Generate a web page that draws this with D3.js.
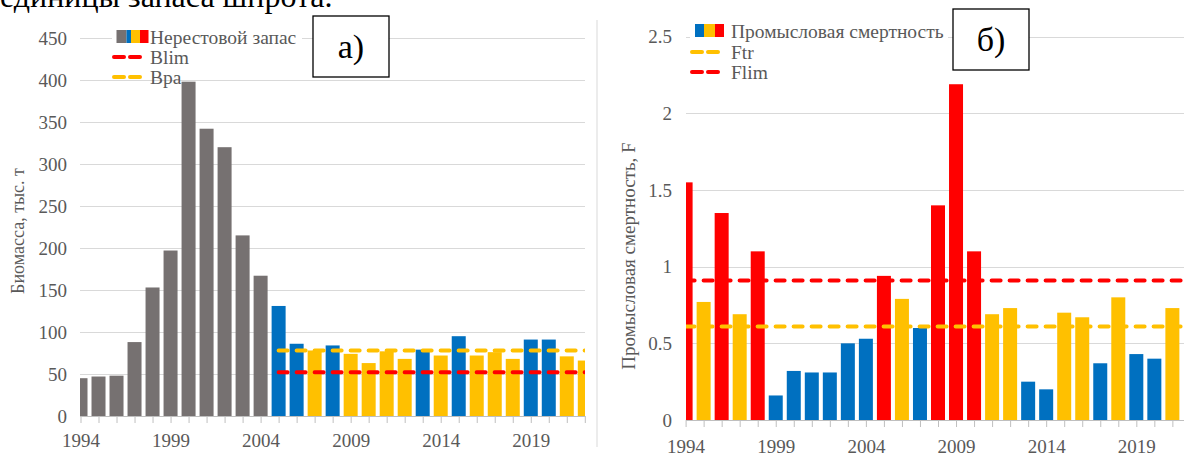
<!DOCTYPE html>
<html>
<head>
<meta charset="utf-8">
<script src="https://cdn.jsdelivr.net/npm/d3@7"></script>
<style>
  html, body { margin: 0; padding: 0; background: #fff; }
  svg { display: block; }
</style>
</head>
<body>
<svg id="chart" width="1184" height="456"></svg>
<script>
// ---- data ----
const years = d3.range(1994, 2023);                 // 1994..2022
const tickYears = [1994, 1999, 2004, 2009, 2014, 2019];

// spawning stock biomass, thousand tonnes
const biomass = [45, 47, 48, 88, 153, 197, 398, 342, 320, 215, 167,
                 131, 86, 78, 84, 74, 63, 77, 68, 79, 72, 95, 72, 76, 68, 91, 91, 71, 66];
// g = historic, b = above Bpa, y = between Blim and Bpa
const biomassStatus = ["g","g","g","g","g","g","g","g","g","g","g",
                       "b","b","y","b","y","y","y","y","b","y","b","y","y","y","b","b","y","y"];
const blimValue = 52, bpaValue = 78;
const refStart = 2005, refEnd = 2022;

// fishing mortality F, 1994..2021
const fYears = d3.range(1994, 2022);
const mortality = [1.55, 0.77, 1.35, 0.69, 1.10, 0.16, 0.32, 0.31, 0.31, 0.50, 0.53,
                   0.94, 0.79, 0.60, 1.40, 2.19, 1.10, 0.69, 0.73, 0.25, 0.20, 0.70,
                   0.67, 0.37, 0.80, 0.43, 0.40, 0.73];
// r = above Flim, y = between Ftr and Flim, b = below Ftr
const mortalityStatus = ["r","y","r","y","r","b","b","b","b","b","b",
                         "r","y","b","r","r","r","y","y","b","b","y","y","b","y","b","b","y"];
const flimValue = 0.91, ftrValue = 0.61;

const biomassTicks = d3.range(0, 451, 50);
const mortalityTicks = [0, 0.5, 1, 1.5, 2, 2.5];

// ---- styling ----
const SERIF = '"Liberation Serif", "Times New Roman", serif';
const colors = { g: "#767171", b: "#0070C0", y: "#FFC000", r: "#FF0000" };
const textGray = "#595959";
const gridGray = "#D9D9D9";
const axisGray = "#BFBFBF";

const svg = d3.select("#chart");

// caption line running in from the page above
svg.append("text")
  .attr("x", 0).attr("y", 7)
  .style("font-family", SERIF).style("font-size", "32px")
  .attr("fill", "#000")
  .text("единицы запаса шпрота.");

// thin frame edge between the two panels
svg.append("line")
  .attr("x1", 597).attr("x2", 597).attr("y1", 20).attr("y2", 447)
  .attr("stroke", gridGray).attr("stroke-width", 1);

function panel(cfg) {
  const g = svg.append("g");
  const x = d3.scaleLinear().domain([1994, 2022]).range([cfg.x0, cfg.x1]);
  const y = d3.scaleLinear().domain(cfg.yDomain).range([cfg.yBottom, cfg.yTop]);
  const clipId = "clip-" + cfg.id;
  svg.append("clipPath").attr("id", clipId)
    .append("rect")
    .attr("x", cfg.clipLeft).attr("y", 0)
    .attr("width", cfg.clipRight - cfg.clipLeft).attr("height", 456);

  // gridlines
  g.append("g")
    .selectAll("line")
    .data(cfg.ticks.filter(t => t > 0))
    .join("line")
    .attr("x1", cfg.clipLeft).attr("x2", cfg.gridRight)
    .attr("y1", d => Math.round(y(d)) + 0.5).attr("y2", d => Math.round(y(d)) + 0.5)
    .attr("stroke", gridGray).attr("stroke-width", 1.2);

  // y tick labels
  g.append("g")
    .selectAll("text")
    .data(cfg.ticks)
    .join("text")
    .attr("x", cfg.yLabelX)
    .attr("y", d => y(d))
    .attr("dy", "0.35em")
    .attr("text-anchor", "end")
    .style("font-family", SERIF).style("font-size", "19px")
    .attr("fill", textGray)
    .text(d => d);

  // bars
  const bw = 14;
  g.append("g")
    .attr("clip-path", `url(#${clipId})`)
    .selectAll("rect")
    .data(cfg.values.map((v, i) => ({ year: cfg.years[i], v, s: cfg.status[i] })))
    .join("rect")
    .attr("x", d => x(d.year) - bw / 2)
    .attr("width", bw)
    .attr("y", d => y(d.v))
    .attr("height", d => y(0) - y(d.v))
    .attr("fill", d => colors[d.s]);

  // x axis
  const xAxis = d3.axisBottom(x)
    .tickValues(years)
    .tickSize(7)
    .tickFormat(d => tickYears.includes(d) ? d : "");
  const ax = g.append("g")
    .attr("transform", `translate(0,${cfg.yBottom})`)
    .call(xAxis);
  ax.select(".domain")
    .attr("d", `M${cfg.clipLeft},0.5H${cfg.gridRight}`)
    .attr("stroke", axisGray).attr("stroke-width", 1.2);
  ax.selectAll(".tick line").attr("stroke", axisGray).attr("stroke-width", 1);
  ax.selectAll(".tick text")
    .style("font-family", SERIF).style("font-size", "19px")
    .attr("fill", textGray)
    .attr("y", cfg.xLabelDy).attr("dy", "0.35em");

  // reference lines
  const line = d3.line().x(d => x(d[0])).y(d => y(d[1]));
  g.append("g").attr("clip-path", `url(#${clipId})`)
    .selectAll("path")
    .data(cfg.refs)
    .join("path")
    .attr("d", d => line([[d.from, d.value], [d.to, d.value]]))
    .attr("fill", "none")
    .attr("stroke", d => d.color)
    .attr("stroke-width", 4)
    .attr("stroke-linecap", "round")
    .attr("stroke-dasharray", "9 9");

  // y axis title
  g.append("text")
    .attr("transform", `translate(${cfg.titleX},${cfg.titleY}) rotate(-90)`)
    .attr("text-anchor", "middle")
    .attr("dy", "0.35em")
    .style("font-family", SERIF).style("font-size", cfg.titleSize + "px")
    .attr("fill", textGray)
    .text(cfg.title);

  // legend
  const lg = g.append("g");
  lg.append("rect")
    .attr("x", cfg.legend.bgX).attr("y", cfg.legend.bgY)
    .attr("width", cfg.legend.bgW).attr("height", cfg.legend.bgH)
    .attr("fill", "#fff");
  let mx = cfg.legend.markerX;
  cfg.legend.swatches.forEach(s => {
    lg.append("rect")
      .attr("x", mx).attr("y", cfg.legend.rowY[0] - 7)
      .attr("width", s.w).attr("height", 13)
      .attr("fill", colors[s.c]);
    mx += s.w;
  });
  cfg.legend.items.forEach((it, i) => {
    const yy = cfg.legend.rowY[i];
    if (it.dash) {
      lg.append("line")
        .attr("x1", cfg.legend.lineX0).attr("x2", cfg.legend.lineX1)
        .attr("y1", yy).attr("y2", yy)
        .attr("stroke", it.dash).attr("stroke-width", 4)
        .attr("stroke-linecap", "round")
        .attr("stroke-dasharray", "10 6");
    }
    lg.append("text")
      .attr("x", cfg.legend.textX).attr("y", yy)
      .attr("dy", "0.35em")
      .style("font-family", SERIF).style("font-size", "19.5px")
      .attr("fill", textGray)
      .text(it.label);
  });

  // panel tag box
  svg.append("rect")
    .attr("x", cfg.tag.x).attr("y", cfg.tag.y)
    .attr("width", cfg.tag.w).attr("height", cfg.tag.h)
    .attr("fill", "#fff").attr("stroke", "#000").attr("stroke-width", 1.3);
  svg.append("text")
    .attr("x", cfg.tag.x + cfg.tag.w / 2).attr("y", cfg.tag.y + cfg.tag.h / 2)
    .attr("dy", "0.35em").attr("text-anchor", "middle")
    .style("font-family", SERIF).style("font-size", "34px")
    .attr("fill", "#000")
    .text(cfg.tag.label);
}

panel({
  id: "a",
  x0: 80.5, x1: 584.8, clipLeft: 80, clipRight: 585, gridRight: 585,
  yDomain: [0, 450], yBottom: 416, yTop: 38,
  ticks: biomassTicks, yLabelX: 67, xLabelDy: 24,
  years: years, values: biomass, status: biomassStatus,
  refs: [
    { value: bpaValue, color: colors.y, from: refStart, to: refEnd },
    { value: blimValue, color: colors.r, from: refStart, to: refEnd }
  ],
  title: "Биомасса, тыс. т", titleX: 18, titleY: 231, titleSize: 18,
  legend: {
    bgX: 112, bgY: 27, bgW: 190, bgH: 51,
    markerX: 116.5,
    swatches: [{ c: "g", w: 10 }, { c: "b", w: 4.5 }, { c: "y", w: 9 }, { c: "r", w: 8.5 }],
    lineX0: 114, lineX1: 143, textX: 150,
    rowY: [37, 57, 77],
    items: [{ label: "Нерестовой запас" }, { label: "Blim", dash: colors.r }, { label: "Bpa", dash: colors.y }]
  },
  tag: { x: 313, y: 16, w: 76, h: 61, label: "а)" }
});

panel({
  id: "b",
  x0: 685.6, x1: 1190.4, clipLeft: 686, clipRight: 1190, gridRight: 1190,
  yDomain: [0, 2.5], yBottom: 420, yTop: 36.7,
  ticks: mortalityTicks, yLabelX: 672, xLabelDy: 26,
  years: fYears, values: mortality, status: mortalityStatus,
  refs: [
    { value: flimValue, color: colors.r, from: 1994, to: 2022 },
    { value: ftrValue, color: colors.y, from: 1994, to: 2022 }
  ],
  title: "Промысловая смертность, F", titleX: 628, titleY: 256, titleSize: 19,
  legend: {
    bgX: 690, bgY: 24, bgW: 258, bgH: 60,
    markerX: 695,
    swatches: [{ c: "b", w: 9 }, { c: "y", w: 11 }, { c: "r", w: 9 }],
    lineX0: 692, lineX1: 722, textX: 731,
    rowY: [31, 52, 72],
    items: [{ label: "Промысловая смертность" }, { label: "Ftr", dash: colors.y }, { label: "Flim", dash: colors.r }]
  },
  tag: { x: 953, y: 9, w: 76, h: 61, label: "б)" }
});
</script>
</body>
</html>
